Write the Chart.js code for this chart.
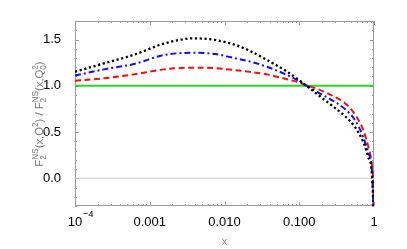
<!DOCTYPE html>
<html>
<head>
<meta charset="utf-8">
<script src="https://cdn.jsdelivr.net/npm/chart.js@4.4.0/dist/chart.umd.min.js"></script>
<style>
  html, body { margin: 0; padding: 0; background: #fff; }
</style>
</head>
<body>
<canvas id="myChart" width="407" height="249"></canvas>
<script>
// x values (log axis)
const xs = [1e-4, 2.44e-4, 6.15e-4, 1.55e-3, 3.9e-3, 7.5e-3, 0.0134, 0.022, 0.037, 0.065,
  0.1045, 0.12, 0.18, 0.258, 0.409, 0.557, 0.719, 0.839, 0.931, 0.978, 1]
const blackVals = [1.152, 1.242, 1.335, 1.455, 1.513, 1.495, 1.446, 1.376, 1.278, 1.165,
  1.048, 1.01, 0.899, 0.802, 0.672, 0.553, 0.391, 0.228, 0.07, -0.3, -0.8]
const blueVals = [1.11, 1.177, 1.235, 1.332, 1.357, 1.343, 1.30, 1.262, 1.205, 1.125,
  1.04, 1.01, 0.926, 0.856, 0.748, 0.629, 0.445, 0.272, 0.109, -0.3, -0.8]
const redVals = [1.054, 1.080, 1.123, 1.177, 1.195, 1.19, 1.170, 1.150, 1.123, 1.075,
  1.03, 1.01, 0.962, 0.905, 0.812, 0.69, 0.521, 0.340, 0.163, -0.1, -0.8]
const refLineX = [1e-4, 1]
const greenVals = [1, 1]
const zeroVals = [0, 0]

const xTicks = [1e-4, 1e-3, 1e-2, 1e-1, 1]
const xTickLabels = ['10', '0.001', '0.010', '0.100', '1']
const firstTickExp = '\u22124'
const yTicks = [0, 0.5, 1.0, 1.5]

// y title pieces: [normal] or [sub, sup] stacked
const yTitleParts = [['F'], ['2', 'NS'], ['(x,Q'], [null, '2'], [') / F'], ['2', 'NS'], ['(x,Q'], ['0', '2'], [')']]

const toPoints = (vals, x = xs) => vals.map((v, i) => ({ x: x[i], y: v }))

const FONT = '"Liberation Sans", Arial, sans-serif'

const framePlugin = {
  id: 'frame',
  beforeDatasetsDraw(chart) {
    const { ctx, chartArea: a, scales: { x, y } } = chart
    ctx.save()
    ctx.strokeStyle = '#9a9a9a'
    ctx.lineWidth = 1
    ctx.strokeRect(a.left + 0.5, a.top + 0.5, a.right - a.left - 1, a.bottom - a.top - 1)
    ctx.beginPath()
    for (let d = -4; d <= 0; d++) {
      for (let m = 1; m <= 9; m++) {
        const v = m * Math.pow(10, d)
        if (v > 1.0001) break
        const px = Math.round(x.getPixelForValue(v)) + 0.5
        const len = m === 1 ? 4 : 2
        ctx.moveTo(px, a.bottom); ctx.lineTo(px, a.bottom - len)
        ctx.moveTo(px, a.top); ctx.lineTo(px, a.top + len)
      }
    }
    for (let i = -3; i <= 17; i++) {
      const py = Math.round(y.getPixelForValue(i / 10)) + 0.5
      const len = i % 5 === 0 ? 4 : 2
      ctx.moveTo(a.left, py); ctx.lineTo(a.left + len, py)
      ctx.moveTo(a.right, py); ctx.lineTo(a.right - len, py)
    }
    ctx.stroke()
    ctx.restore()
  },
  afterDraw(chart) {
    const { ctx, chartArea: a, scales: { x } } = chart
    ctx.save()
    // exponent of the first x tick label
    ctx.font = '13px ' + FONT
    const w10 = ctx.measureText(xTickLabels[0]).width
    ctx.font = '9.5px ' + FONT
    ctx.fillStyle = '#000'
    ctx.textBaseline = 'alphabetic'
    ctx.fillText(firstTickExp, x.getPixelForValue(xTicks[0]) + w10 / 2 + 0.5, a.bottom + 11)

    // y axis title
    ctx.fillStyle = '#777'
    const main = '11.3px ' + FONT
    const small = '8.2px ' + FONT
    let total = 0
    const widths = yTitleParts.map(p => {
      let w
      if (p.length === 1) { ctx.font = main; w = ctx.measureText(p[0]).width }
      else {
        ctx.font = small
        w = Math.max(p[0] ? ctx.measureText(p[0]).width : 0, p[1] ? ctx.measureText(p[1]).width : 0)
      }
      total += w
      return w
    })
    ctx.translate(43, 114)
    ctx.rotate(-Math.PI / 2)
    let cx = -total / 2
    yTitleParts.forEach((p, i) => {
      if (p.length === 1) { ctx.font = main; ctx.fillText(p[0], cx, 0) }
      else {
        ctx.font = small
        if (p[0]) ctx.fillText(p[0], cx, 2.5)
        if (p[1]) ctx.fillText(p[1], cx, -5.5)
      }
      cx += widths[i]
    })
    ctx.restore()
  }
}

const ctx = document.getElementById('myChart').getContext('2d')
const myChart = new Chart(ctx, {
  type: 'line',
  data: {
    datasets: [
      { data: toPoints(blackVals), borderColor: '#000', borderWidth: 2.3, borderDash: [2.2, 2.6] },
      { data: toPoints(blueVals), borderColor: '#1010ee', borderWidth: 2, borderDash: [6, 3, 2, 3] },
      { data: toPoints(redVals), borderColor: '#ee1111', borderWidth: 2, borderDash: [6, 3.5] },
      { data: toPoints(greenVals, refLineX), borderColor: '#22dd22', borderWidth: 2 },
      { data: toPoints(zeroVals, refLineX), borderColor: '#cccccc', borderWidth: 1 }
    ]
  },
  options: {
    responsive: false,
    animation: false,
    devicePixelRatio: 1,
    layout: { padding: { left: 0, right: 33, top: 21, bottom: 0 } },
    elements: {
      point: { radius: 0 },
      line: { cubicInterpolationMode: 'monotone', fill: false }
    },
    plugins: { legend: { display: false }, tooltip: { enabled: false } },
    scales: {
      x: {
        type: 'logarithmic',
        min: 1e-4,
        max: 1,
        grid: { display: false },
        border: { display: false },
        afterBuildTicks: (scale) => { scale.ticks = xTicks.map(v => ({ value: v })) },
        afterFit: (scale) => { scale.height = 43 },
        ticks: {
          color: '#000',
          font: { family: FONT, size: 13 },
          padding: 1,
          maxRotation: 0,
          autoSkip: false,
          callback: (v) => xTickLabels[xTicks.findIndex(t => Math.abs(t - v) < t * 1e-6)]
        },
        title: { display: true, text: 'x', color: '#888', font: { family: FONT, size: 11 }, padding: { top: 6, bottom: 0 } }
      },
      y: {
        min: -0.3,
        max: 1.7,
        grid: { display: false },
        border: { display: false },
        afterBuildTicks: (scale) => { scale.ticks = yTicks.map(v => ({ value: v })) },
        afterFit: (scale) => { scale.width = 75 },
        ticks: {
          color: '#000',
          font: { family: FONT, size: 13 },
          padding: 6,
          callback: (v) => v.toFixed(1)
        }
      }
    }
  },
  plugins: [framePlugin]
})
</script>
</body>
</html>
